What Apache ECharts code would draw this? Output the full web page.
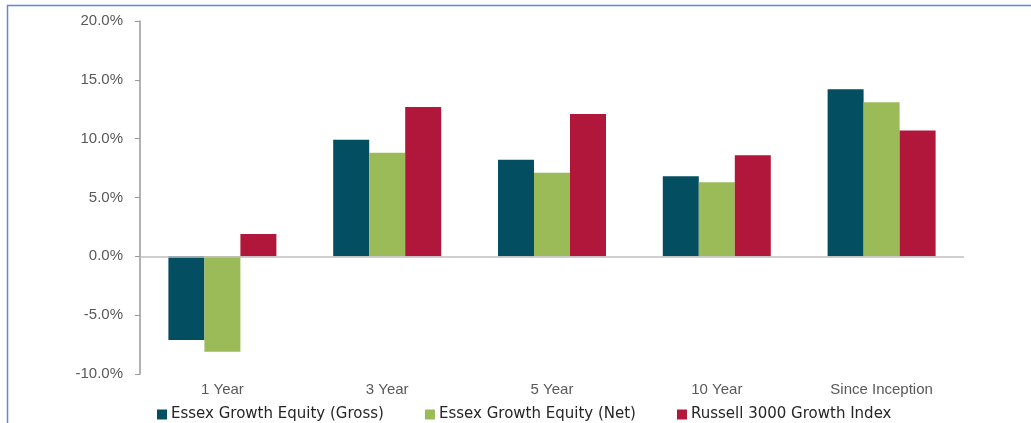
<!DOCTYPE html>
<html lang="en">
<head>
<meta charset="UTF-8">
<title>Essex Growth Equity performance</title>
<script src="https://cdn.jsdelivr.net/npm/echarts@6/dist/echarts.min.js"></script>
<style>
  html, body { margin: 0; padding: 0; background: #fff; }
</style>
</head>
<body>
<div id="main" style="width:1031px;height:423px;"></div>
<script>
// periods on the x axis
var periods = ['1 Year', '3 Year', '5 Year', '10 Year', 'Since Inception'];
// annualized returns in %
var gross = [-7.1, 9.9, 8.2, 6.8, 14.2];
var net = [-8.1, 8.8, 7.1, 6.3, 13.1];
var russell = [1.9, 12.7, 12.1, 8.6, 10.7];
var seriesNames = ['Essex Growth Equity (Gross)', 'Essex Growth Equity (Net)', 'Russell 3000 Growth Index'];

var myChart = echarts.init(document.getElementById('main'));

var option = {
    color: ['#034e60', '#9bbb59', '#b1173b'],
    animation: false,
    graphic: [{
        type: 'rect',
        shape: { x: 7.5, y: 5.5, width: 1100, height: 500 },
        style: { fill: 'none', stroke: '#5b8bd0', lineWidth: 1.5 },
        silent: true
    }],
    legend: {
        data: seriesNames,
        left: 152,
        top: 402,
        itemWidth: 10,
        itemHeight: 10,
        itemGap: 41,
        icon: 'rect',
        textStyle: { fontFamily: 'DejaVu Sans', fontSize: 15, color: '#262626', padding: [0, 0, 0, -1] }
    },
    grid: { left: 140, right: 67, top: 21, bottom: 49 },
    xAxis: {
        type: 'category',
        data: periods,
        axisLine: { show: false, onZero: false },
        axisTick: { show: false },
        axisLabel: { fontFamily: 'Liberation Sans', fontSize: 15, color: '#595959', margin: 8 }
    },
    yAxis: {
        type: 'value',
        min: -10,
        max: 20,
        interval: 5,
        axisLine: { show: true, lineStyle: { color: '#999999', width: 1.5 } },
        axisTick: { show: true, inside: false, length: 5, lineStyle: { color: '#999999' } },
        splitLine: { show: false },
        axisLabel: {
            fontFamily: 'Liberation Sans', fontSize: 15, color: '#595959', margin: 17,
            formatter: function (v) { return v.toFixed(1) + '%'; }
        }
    },
    series: [
        {
            name: seriesNames[0], type: 'bar', data: gross, barWidth: 36, barGap: '0%',
            markLine: {
                silent: true, symbol: 'none', label: { show: false },
                lineStyle: { color: '#bfbfbf', type: 'solid', width: 1.5 },
                data: [{ yAxis: 0 }]
            }
        },
        { name: seriesNames[1], type: 'bar', data: net, barWidth: 36, barGap: '0%' },
        { name: seriesNames[2], type: 'bar', data: russell, barWidth: 36, barGap: '0%' }
    ]
};

myChart.setOption(option);
</script>
</body>
</html>
